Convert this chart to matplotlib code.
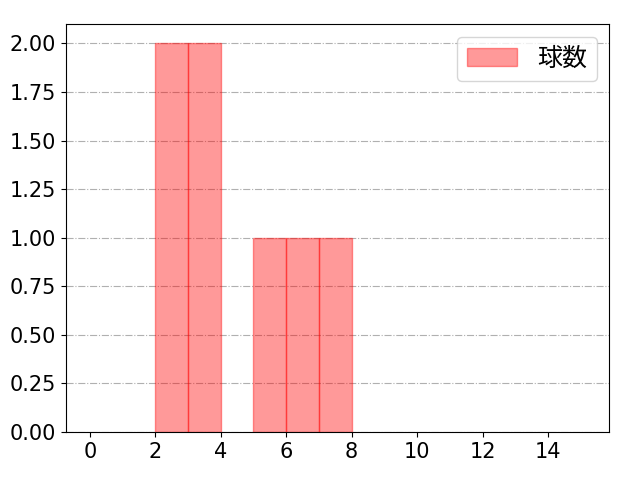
import numpy as np
import matplotlib.pyplot as plt

plt.rcParams['font.family'] = ['DejaVu Sans', 'Noto Sans CJK JP']
plt.rcParams['font.size'] = 15

# 投球数のヒストグラム
bin_left = [2, 3, 5, 6, 7]
counts = [2, 2, 1, 1, 1]
label = '球数'

fig, ax = plt.subplots(figsize=(6.4, 4.8), dpi=100)
ax.bar(bin_left, counts, width=1, align='edge', color='red', alpha=0.4,
       edgecolor='red', linewidth=1, label=label)

ax.set_xlim(-0.73, 15.87)
ax.set_ylim(0, 2.1)
ax.set_xticks(np.arange(0, 15, 2))
ax.set_yticks(np.arange(0, 2.01, 0.25))
ax.yaxis.set_major_formatter(plt.FormatStrFormatter('%.2f'))
ax.grid(axis='y', linestyle='-.', color='#b0b0b0', linewidth=0.8)
ax.set_axisbelow(True)
ax.legend(loc='upper right', fontsize=18)

fig.subplots_adjust(left=0.103, right=0.952, top=0.95, bottom=0.1)
plt.savefig('out.png')
